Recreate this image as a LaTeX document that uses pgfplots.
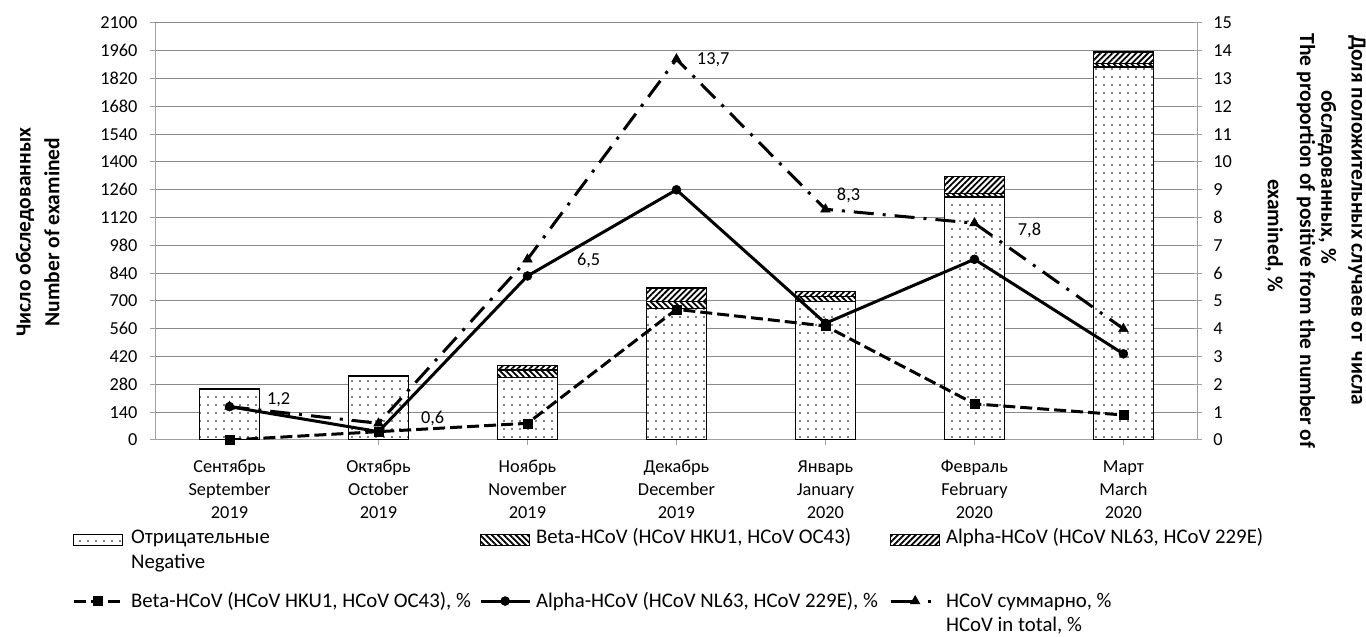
\documentclass[border=0pt]{standalone}
\usepackage{fontspec}
\setmainfont{Carlito}
\usepackage{pgfplots}
\pgfplotsset{compat=1.18}
\usetikzlibrary{patterns.meta}
\definecolor{gridc}{HTML}{8A8A8A}
\definecolor{axc}{HTML}{A0A0A0}
\tikzset{
 negbar/.style={draw=black, line width=1.3pt, fill=white, postaction={pattern={Dots[distance=8pt, radius=0.9pt]}}},
 betabar/.style={draw=black, line width=1.3pt, fill=white, postaction={pattern={Lines[angle=-45, distance=4.2pt, line width=1.8pt]}}},
 alphabar/.style={draw=black, line width=1.3pt, fill=white, postaction={pattern={Lines[angle=45, distance=4.2pt, line width=1.8pt]}}},
}
\pgfplotsset{
 barlegend/.style={legend image code/.code={\draw[##1] (0pt,-1.5pt) rectangle (49pt,9.5pt);}},
 linelegend/.style={legend image code/.code={\draw[mark repeat=2,mark phase=2,##1] plot coordinates {(0pt,6pt) (24.5pt,6pt) (49pt,6pt)};}},
 totallegend/.style={legend image code/.code={\draw[mark repeat=2,mark phase=2,##1, dash pattern=on 24pt off 13pt on 3pt off 20pt] plot coordinates {(0pt,6pt) (24.5pt,6pt) (49pt,6pt)};}},
}
\newcommand{\tickfont}{\fontsize{18.3}{23}\selectfont}
\newcommand{\labfont}{\bfseries\fontsize{21.5}{26}\selectfont}
\newcommand{\rowtwo}{\rule{0pt}{40pt}}
\begin{document}
\begin{tikzpicture}[x=1pt,y=1pt]
\path[use as bounding box] (0,0) rectangle (1366,637);
\begin{axis}[
 at={(155pt,197pt)}, anchor=south west,
 scale only axis, width=1043pt, height=417pt,
 xmin=-0.5, xmax=6.5, ymin=0, ymax=2100,
 ybar stacked, bar width=60pt,
 ytick={0,140,...,2100},
 xtick={0,...,6},
 xticklabels={{Сентябрь\\September\\2019},{Октябрь\\October\\2019},{Ноябрь\\November\\2019},{Декабрь\\December\\2019},{Январь\\January\\2020},{Февраль\\February\\2020},{Март\\March\\2020}},
 xticklabel style={align=center, font=\tickfont, yshift=-12pt},
 yticklabel style={font=\tickfont, xshift=-9pt},
 /pgf/number format/assume math mode=true,
 /pgf/number format/1000 sep={},
 ymajorgrids, grid style={draw=gridc, line width=1pt},
 axis x line*=bottom, axis y line*=left,
 axis line style={draw=axc, line width=1pt, -},
 tick style={draw=axc, line width=1pt},
 tick align=outside, major tick length=5pt,
]
\addplot[negbar] coordinates {(0,254) (1,320) (2,316) (3,663) (4,697) (5,1223) (6,1878)};
\addplot[betabar] coordinates {(0,0) (1,1) (2,36) (3,36) (4,25) (5,17) (6,18)};
\addplot[alphabar] coordinates {(0,3) (1,1) (2,22) (3,67) (4,25) (5,86) (6,58)};
\end{axis}
\begin{axis}[
 at={(155pt,197pt)}, anchor=south west,
 scale only axis, width=1043pt, height=417pt,
 xmin=-0.5, xmax=6.5, ymin=0, ymax=15,
 axis x line=none, axis y line*=right,
 ytick={0,...,15},
 yticklabel style={font=\tickfont, xshift=8pt},
 /pgf/number format/assume math mode=true,
 axis line style={draw=axc, line width=1pt, -},
 tick style={draw=axc, line width=1pt},
 tick align=center, major tick length=8pt,
 legend columns=3,
 legend style={at={(-0.0796,-0.2122)}, anchor=north west, draw=none, fill=none, inner sep=0pt, column sep=0pt, row sep=21pt, nodes={inner sep=0pt, font=\fontsize{20.8}{25}\selectfont}, cells={anchor=base west}},
]
\addlegendimage{negbar, barlegend}
\addlegendentry{\hspace*{7pt}\parbox[t]{348pt}{Отрицательные\\Negative}}
\addlegendimage{betabar, barlegend}
\addlegendentry{\hspace*{5pt}\parbox[t]{353pt}{Beta-HCoV (HCoV HKU1, HCoV OC43)}}
\addlegendimage{alphabar, barlegend}
\addlegendentry{\hspace*{5pt}\parbox[t]{360pt}{Alpha-HCoV (HCoV NL63, HCoV 229E)}}
\addplot[black, line width=3pt, dash pattern=on 12pt off 5pt, mark=square*, mark size=4.5pt, mark options={solid, line width=0.5pt}, linelegend] coordinates {(0,0) (1,0.3) (2,0.6) (3,4.7) (4,4.1) (5,1.3) (6,0.9)};
\addlegendentry{\hspace*{7pt}\parbox[t]{348pt}{\rowtwo Beta-HCoV (HCoV HKU1, HCoV OC43), \%}}
\addplot[black, line width=3pt, mark=*, mark size=4.5pt, mark options={solid, line width=0.5pt}, linelegend] coordinates {(0,1.2) (1,0.3) (2,5.9) (3,9.0) (4,4.2) (5,6.5) (6,3.1)};
\addlegendentry{\hspace*{5pt}\parbox[t]{353pt}{\rowtwo Alpha-HCoV (HCoV NL63, HCoV 229E), \%}}
\addplot[black, line width=3pt, dash pattern=on 20pt off 9pt on 3pt off 9pt, mark=triangle*, mark size=5.5pt, mark options={solid, line width=0.5pt}, totallegend] coordinates {(0,1.2) (1,0.6) (2,6.5) (3,13.7) (4,8.3) (5,7.8) (6,4.0)};
\addlegendentry{\hspace*{5pt}\parbox[t]{360pt}{\rowtwo HCoV суммарно, \%\\[-1pt]HCoV in total, \%}}
\node[anchor=west, font=\tickfont, xshift=34pt, yshift=6.6pt] at (axis cs:0,1.2) {1,2};
\node[anchor=west, font=\tickfont, xshift=39pt, yshift=5pt] at (axis cs:1,0.6) {0,6};
\node[anchor=west, font=\tickfont, xshift=46pt, yshift=-0.7pt] at (axis cs:2,6.5) {6,5};
\node[anchor=west, font=\tickfont, xshift=17pt, yshift=-1pt] at (axis cs:3,13.7) {13,7};
\node[anchor=west, font=\tickfont, xshift=8pt, yshift=14pt] at (axis cs:4,8.3) {8,3};
\node[anchor=west, font=\tickfont, xshift=40pt, yshift=-7pt] at (axis cs:5,7.8) {7,8};
\end{axis}
\node[rotate=90, font=\labfont] at (25,405) {Число обследованных};
\node[rotate=90, font=\labfont] at (52,405) {Number of examined};
\node[rotate=-90, font=\labfont] at (1357,417) {Доля положительных случаев от\ \ числа};
\node[rotate=-90, font=\labfont] at (1327,460) {обследованных, \%};
\node[rotate=-90, font=\labfont] at (1306,396) {The proportion of positive from the number of};
\node[rotate=-90, font=\labfont] at (1274,401) {examined, \%};
\end{tikzpicture}
\end{document}
